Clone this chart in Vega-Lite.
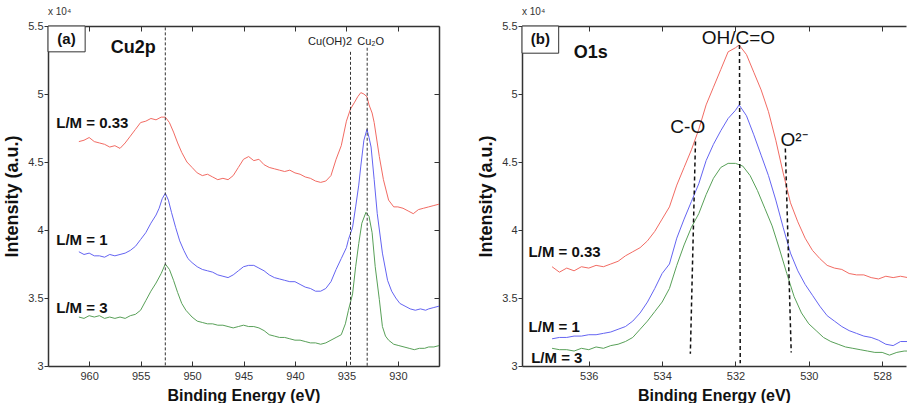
{
  "$schema": "https://vega.github.io/schema/vega-lite/v6.json",
  "padding": {"left": 3, "top": 7, "right": 0, "bottom": 0},
  "spacing": 36,
  "config": {
    "view": {"stroke": null},
    "axis": {"grid": false, "domainColor": "#333", "domainWidth": 1.5, "tickColor": "#333", "tickWidth": 1, "labelFont": "Liberation Sans", "labelFontSize": 11, "labelColor": "#333", "titleFont": "Liberation Sans", "titleFontWeight": "bold", "titleColor": "#111"},
    "title": {"font": "Liberation Sans", "fontSize": 10, "fontWeight": "normal", "anchor": "start", "frame": "group", "color": "#333", "offset": 3},
    "text": {"font": "Liberation Sans"}
  },
  "datasets": {
    "cu": [
      {"E":961.0,"I":4.65,"s":"0.33"},{"E":960.5,"I":4.66,"s":"0.33"},{"E":960.0,"I":4.68,"s":"0.33"},{"E":959.5,"I":4.65,"s":"0.33"},{"E":959.0,"I":4.64,"s":"0.33"},{"E":958.5,"I":4.63,"s":"0.33"},{"E":958.0,"I":4.61,"s":"0.33"},{"E":957.5,"I":4.62,"s":"0.33"},{"E":957.0,"I":4.60,"s":"0.33"},{"E":956.5,"I":4.64,"s":"0.33"},{"E":956.0,"I":4.69,"s":"0.33"},{"E":955.5,"I":4.74,"s":"0.33"},{"E":955.0,"I":4.79,"s":"0.33"},{"E":954.5,"I":4.80,"s":"0.33"},{"E":954.0,"I":4.82,"s":"0.33"},{"E":953.5,"I":4.81,"s":"0.33"},{"E":953.0,"I":4.83,"s":"0.33"},{"E":952.6,"I":4.83,"s":"0.33"},{"E":952.2,"I":4.79,"s":"0.33"},{"E":951.8,"I":4.72,"s":"0.33"},{"E":951.4,"I":4.64,"s":"0.33"},{"E":951.0,"I":4.57,"s":"0.33"},{"E":950.5,"I":4.50,"s":"0.33"},{"E":950.0,"I":4.46,"s":"0.33"},{"E":949.5,"I":4.42,"s":"0.33"},{"E":949.0,"I":4.40,"s":"0.33"},{"E":948.5,"I":4.41,"s":"0.33"},{"E":948.0,"I":4.39,"s":"0.33"},{"E":947.5,"I":4.37,"s":"0.33"},{"E":947.0,"I":4.38,"s":"0.33"},{"E":946.5,"I":4.37,"s":"0.33"},{"E":946.0,"I":4.40,"s":"0.33"},{"E":945.5,"I":4.46,"s":"0.33"},{"E":945.0,"I":4.52,"s":"0.33"},{"E":944.5,"I":4.54,"s":"0.33"},{"E":944.0,"I":4.51,"s":"0.33"},{"E":943.5,"I":4.52,"s":"0.33"},{"E":943.0,"I":4.48,"s":"0.33"},{"E":942.5,"I":4.46,"s":"0.33"},{"E":942.0,"I":4.45,"s":"0.33"},{"E":941.5,"I":4.44,"s":"0.33"},{"E":941.0,"I":4.43,"s":"0.33"},{"E":940.5,"I":4.44,"s":"0.33"},{"E":940.0,"I":4.42,"s":"0.33"},{"E":939.5,"I":4.41,"s":"0.33"},{"E":939.0,"I":4.39,"s":"0.33"},{"E":938.5,"I":4.38,"s":"0.33"},{"E":938.0,"I":4.36,"s":"0.33"},{"E":937.5,"I":4.35,"s":"0.33"},{"E":937.0,"I":4.36,"s":"0.33"},{"E":936.5,"I":4.40,"s":"0.33"},{"E":936.0,"I":4.52,"s":"0.33"},{"E":935.5,"I":4.62,"s":"0.33"},{"E":935.0,"I":4.80,"s":"0.33"},{"E":934.6,"I":4.89,"s":"0.33"},{"E":934.2,"I":4.94,"s":"0.33"},{"E":933.9,"I":4.98,"s":"0.33"},{"E":933.6,"I":5.01,"s":"0.33"},{"E":933.3,"I":5.00,"s":"0.33"},{"E":933.0,"I":4.98,"s":"0.33"},{"E":932.8,"I":4.92,"s":"0.33"},{"E":932.5,"I":4.86,"s":"0.33"},{"E":932.3,"I":4.79,"s":"0.33"},{"E":931.8,"I":4.54,"s":"0.33"},{"E":931.4,"I":4.37,"s":"0.33"},{"E":930.9,"I":4.22,"s":"0.33"},{"E":930.4,"I":4.17,"s":"0.33"},{"E":930.0,"I":4.17,"s":"0.33"},{"E":929.5,"I":4.16,"s":"0.33"},{"E":929.0,"I":4.14,"s":"0.33"},{"E":928.5,"I":4.12,"s":"0.33"},{"E":928.0,"I":4.15,"s":"0.33"},{"E":927.5,"I":4.16,"s":"0.33"},{"E":927.0,"I":4.17,"s":"0.33"},{"E":926.5,"I":4.18,"s":"0.33"},{"E":926.0,"I":4.19,"s":"0.33"},
      {"E":961.0,"I":3.84,"s":"1"},{"E":960.5,"I":3.82,"s":"1"},{"E":960.0,"I":3.83,"s":"1"},{"E":959.5,"I":3.81,"s":"1"},{"E":959.0,"I":3.81,"s":"1"},{"E":958.5,"I":3.80,"s":"1"},{"E":958.0,"I":3.82,"s":"1"},{"E":957.5,"I":3.81,"s":"1"},{"E":957.0,"I":3.82,"s":"1"},{"E":956.5,"I":3.83,"s":"1"},{"E":956.0,"I":3.85,"s":"1"},{"E":955.5,"I":3.88,"s":"1"},{"E":955.0,"I":3.93,"s":"1"},{"E":954.5,"I":3.98,"s":"1"},{"E":954.0,"I":4.05,"s":"1"},{"E":953.5,"I":4.11,"s":"1"},{"E":953.2,"I":4.16,"s":"1"},{"E":952.9,"I":4.23,"s":"1"},{"E":952.6,"I":4.27,"s":"1"},{"E":952.3,"I":4.22,"s":"1"},{"E":952.0,"I":4.13,"s":"1"},{"E":951.6,"I":4.02,"s":"1"},{"E":951.2,"I":3.92,"s":"1"},{"E":950.8,"I":3.85,"s":"1"},{"E":950.4,"I":3.79,"s":"1"},{"E":950.0,"I":3.76,"s":"1"},{"E":949.5,"I":3.73,"s":"1"},{"E":949.0,"I":3.71,"s":"1"},{"E":948.5,"I":3.70,"s":"1"},{"E":948.0,"I":3.69,"s":"1"},{"E":947.5,"I":3.67,"s":"1"},{"E":947.0,"I":3.66,"s":"1"},{"E":946.5,"I":3.65,"s":"1"},{"E":946.0,"I":3.67,"s":"1"},{"E":945.5,"I":3.70,"s":"1"},{"E":945.0,"I":3.73,"s":"1"},{"E":944.5,"I":3.74,"s":"1"},{"E":944.0,"I":3.74,"s":"1"},{"E":943.5,"I":3.72,"s":"1"},{"E":943.0,"I":3.70,"s":"1"},{"E":942.5,"I":3.67,"s":"1"},{"E":942.0,"I":3.65,"s":"1"},{"E":941.5,"I":3.64,"s":"1"},{"E":941.0,"I":3.63,"s":"1"},{"E":940.5,"I":3.62,"s":"1"},{"E":940.0,"I":3.62,"s":"1"},{"E":939.5,"I":3.60,"s":"1"},{"E":939.0,"I":3.58,"s":"1"},{"E":938.5,"I":3.57,"s":"1"},{"E":938.0,"I":3.55,"s":"1"},{"E":937.5,"I":3.55,"s":"1"},{"E":937.0,"I":3.57,"s":"1"},{"E":936.5,"I":3.62,"s":"1"},{"E":936.0,"I":3.71,"s":"1"},{"E":935.5,"I":3.79,"s":"1"},{"E":935.0,"I":3.87,"s":"1"},{"E":934.8,"I":3.93,"s":"1"},{"E":934.4,"I":4.02,"s":"1"},{"E":934.1,"I":4.17,"s":"1"},{"E":933.8,"I":4.33,"s":"1"},{"E":933.6,"I":4.47,"s":"1"},{"E":933.3,"I":4.66,"s":"1"},{"E":933.0,"I":4.74,"s":"1"},{"E":932.8,"I":4.68,"s":"1"},{"E":932.6,"I":4.61,"s":"1"},{"E":932.3,"I":4.37,"s":"1"},{"E":932.0,"I":4.12,"s":"1"},{"E":931.5,"I":3.83,"s":"1"},{"E":931.0,"I":3.63,"s":"1"},{"E":930.6,"I":3.55,"s":"1"},{"E":930.2,"I":3.50,"s":"1"},{"E":929.8,"I":3.46,"s":"1"},{"E":929.3,"I":3.44,"s":"1"},{"E":928.8,"I":3.42,"s":"1"},{"E":928.3,"I":3.41,"s":"1"},{"E":927.8,"I":3.42,"s":"1"},{"E":927.3,"I":3.41,"s":"1"},{"E":927.0,"I":3.42,"s":"1"},{"E":926.5,"I":3.43,"s":"1"},{"E":926.0,"I":3.44,"s":"1"},
      {"E":961.0,"I":3.36,"s":"3"},{"E":960.5,"I":3.35,"s":"3"},{"E":960.0,"I":3.37,"s":"3"},{"E":959.5,"I":3.36,"s":"3"},{"E":959.0,"I":3.37,"s":"3"},{"E":958.5,"I":3.35,"s":"3"},{"E":958.0,"I":3.36,"s":"3"},{"E":957.5,"I":3.35,"s":"3"},{"E":957.0,"I":3.36,"s":"3"},{"E":956.5,"I":3.35,"s":"3"},{"E":956.0,"I":3.37,"s":"3"},{"E":955.5,"I":3.38,"s":"3"},{"E":955.0,"I":3.41,"s":"3"},{"E":954.5,"I":3.48,"s":"3"},{"E":954.0,"I":3.55,"s":"3"},{"E":953.5,"I":3.61,"s":"3"},{"E":953.0,"I":3.68,"s":"3"},{"E":952.6,"I":3.75,"s":"3"},{"E":952.2,"I":3.71,"s":"3"},{"E":951.8,"I":3.63,"s":"3"},{"E":951.4,"I":3.54,"s":"3"},{"E":951.0,"I":3.46,"s":"3"},{"E":950.6,"I":3.41,"s":"3"},{"E":950.0,"I":3.36,"s":"3"},{"E":949.5,"I":3.33,"s":"3"},{"E":949.0,"I":3.32,"s":"3"},{"E":948.5,"I":3.31,"s":"3"},{"E":948.0,"I":3.31,"s":"3"},{"E":947.5,"I":3.30,"s":"3"},{"E":947.0,"I":3.30,"s":"3"},{"E":946.5,"I":3.29,"s":"3"},{"E":946.0,"I":3.28,"s":"3"},{"E":945.5,"I":3.29,"s":"3"},{"E":945.0,"I":3.30,"s":"3"},{"E":944.5,"I":3.29,"s":"3"},{"E":944.0,"I":3.29,"s":"3"},{"E":943.5,"I":3.28,"s":"3"},{"E":943.0,"I":3.26,"s":"3"},{"E":942.5,"I":3.23,"s":"3"},{"E":942.0,"I":3.22,"s":"3"},{"E":941.5,"I":3.21,"s":"3"},{"E":941.0,"I":3.21,"s":"3"},{"E":940.5,"I":3.20,"s":"3"},{"E":940.0,"I":3.19,"s":"3"},{"E":939.5,"I":3.19,"s":"3"},{"E":939.0,"I":3.18,"s":"3"},{"E":938.5,"I":3.17,"s":"3"},{"E":938.0,"I":3.17,"s":"3"},{"E":937.5,"I":3.16,"s":"3"},{"E":937.0,"I":3.17,"s":"3"},{"E":936.5,"I":3.19,"s":"3"},{"E":936.0,"I":3.21,"s":"3"},{"E":935.5,"I":3.23,"s":"3"},{"E":935.1,"I":3.31,"s":"3"},{"E":934.8,"I":3.41,"s":"3"},{"E":934.4,"I":3.53,"s":"3"},{"E":934.1,"I":3.73,"s":"3"},{"E":933.8,"I":3.90,"s":"3"},{"E":933.5,"I":4.05,"s":"3"},{"E":933.1,"I":4.13,"s":"3"},{"E":932.8,"I":4.10,"s":"3"},{"E":932.5,"I":3.98,"s":"3"},{"E":932.2,"I":3.73,"s":"3"},{"E":931.8,"I":3.49,"s":"3"},{"E":931.5,"I":3.29,"s":"3"},{"E":931.2,"I":3.22,"s":"3"},{"E":930.9,"I":3.19,"s":"3"},{"E":930.4,"I":3.16,"s":"3"},{"E":929.9,"I":3.15,"s":"3"},{"E":929.4,"I":3.14,"s":"3"},{"E":928.9,"I":3.13,"s":"3"},{"E":928.4,"I":3.12,"s":"3"},{"E":927.9,"I":3.13,"s":"3"},{"E":927.4,"I":3.13,"s":"3"},{"E":927.0,"I":3.14,"s":"3"},{"E":926.5,"I":3.14,"s":"3"},{"E":926.0,"I":3.15,"s":"3"}
    ],
    "o": [
      {"E":537.0,"I":3.73,"s":"0.33"},{"E":536.8,"I":3.69,"s":"0.33"},{"E":536.6,"I":3.72,"s":"0.33"},{"E":536.4,"I":3.70,"s":"0.33"},{"E":536.2,"I":3.73,"s":"0.33"},{"E":536.0,"I":3.72,"s":"0.33"},{"E":535.8,"I":3.74,"s":"0.33"},{"E":535.6,"I":3.73,"s":"0.33"},{"E":535.4,"I":3.75,"s":"0.33"},{"E":535.2,"I":3.77,"s":"0.33"},{"E":535.0,"I":3.81,"s":"0.33"},{"E":534.8,"I":3.84,"s":"0.33"},{"E":534.6,"I":3.87,"s":"0.33"},{"E":534.4,"I":3.92,"s":"0.33"},{"E":534.2,"I":3.99,"s":"0.33"},{"E":534.0,"I":4.08,"s":"0.33"},{"E":533.8,"I":4.17,"s":"0.33"},{"E":533.6,"I":4.33,"s":"0.33"},{"E":533.4,"I":4.46,"s":"0.33"},{"E":533.2,"I":4.59,"s":"0.33"},{"E":533.0,"I":4.74,"s":"0.33"},{"E":532.8,"I":4.92,"s":"0.33"},{"E":532.6,"I":5.05,"s":"0.33"},{"E":532.4,"I":5.18,"s":"0.33"},{"E":532.2,"I":5.31,"s":"0.33"},{"E":532.0,"I":5.34,"s":"0.33"},{"E":531.9,"I":5.36,"s":"0.33"},{"E":531.7,"I":5.29,"s":"0.33"},{"E":531.5,"I":5.16,"s":"0.33"},{"E":531.3,"I":5.03,"s":"0.33"},{"E":531.1,"I":4.87,"s":"0.33"},{"E":530.9,"I":4.66,"s":"0.33"},{"E":530.7,"I":4.42,"s":"0.33"},{"E":530.5,"I":4.20,"s":"0.33"},{"E":530.3,"I":4.06,"s":"0.33"},{"E":530.1,"I":3.94,"s":"0.33"},{"E":529.9,"I":3.85,"s":"0.33"},{"E":529.7,"I":3.79,"s":"0.33"},{"E":529.5,"I":3.74,"s":"0.33"},{"E":529.3,"I":3.72,"s":"0.33"},{"E":529.1,"I":3.71,"s":"0.33"},{"E":528.9,"I":3.68,"s":"0.33"},{"E":528.7,"I":3.67,"s":"0.33"},{"E":528.5,"I":3.67,"s":"0.33"},{"E":528.3,"I":3.65,"s":"0.33"},{"E":528.1,"I":3.64,"s":"0.33"},{"E":527.9,"I":3.66,"s":"0.33"},{"E":527.7,"I":3.65,"s":"0.33"},{"E":527.5,"I":3.66,"s":"0.33"},{"E":527.3,"I":3.65,"s":"0.33"},
      {"E":537.0,"I":3.20,"s":"1"},{"E":536.8,"I":3.21,"s":"1"},{"E":536.6,"I":3.21,"s":"1"},{"E":536.4,"I":3.22,"s":"1"},{"E":536.2,"I":3.22,"s":"1"},{"E":536.0,"I":3.23,"s":"1"},{"E":535.8,"I":3.23,"s":"1"},{"E":535.6,"I":3.24,"s":"1"},{"E":535.4,"I":3.25,"s":"1"},{"E":535.2,"I":3.27,"s":"1"},{"E":535.0,"I":3.29,"s":"1"},{"E":534.8,"I":3.33,"s":"1"},{"E":534.6,"I":3.39,"s":"1"},{"E":534.4,"I":3.47,"s":"1"},{"E":534.2,"I":3.57,"s":"1"},{"E":534.0,"I":3.68,"s":"1"},{"E":533.8,"I":3.75,"s":"1"},{"E":533.6,"I":3.94,"s":"1"},{"E":533.4,"I":4.08,"s":"1"},{"E":533.2,"I":4.21,"s":"1"},{"E":533.0,"I":4.34,"s":"1"},{"E":532.8,"I":4.51,"s":"1"},{"E":532.6,"I":4.63,"s":"1"},{"E":532.4,"I":4.73,"s":"1"},{"E":532.2,"I":4.82,"s":"1"},{"E":532.0,"I":4.88,"s":"1"},{"E":531.9,"I":4.92,"s":"1"},{"E":531.7,"I":4.84,"s":"1"},{"E":531.5,"I":4.70,"s":"1"},{"E":531.3,"I":4.55,"s":"1"},{"E":531.1,"I":4.40,"s":"1"},{"E":530.9,"I":4.22,"s":"1"},{"E":530.7,"I":4.02,"s":"1"},{"E":530.5,"I":3.83,"s":"1"},{"E":530.3,"I":3.70,"s":"1"},{"E":530.1,"I":3.60,"s":"1"},{"E":529.9,"I":3.52,"s":"1"},{"E":529.7,"I":3.44,"s":"1"},{"E":529.5,"I":3.37,"s":"1"},{"E":529.3,"I":3.33,"s":"1"},{"E":529.1,"I":3.29,"s":"1"},{"E":528.9,"I":3.26,"s":"1"},{"E":528.7,"I":3.24,"s":"1"},{"E":528.5,"I":3.22,"s":"1"},{"E":528.3,"I":3.21,"s":"1"},{"E":528.1,"I":3.19,"s":"1"},{"E":527.9,"I":3.16,"s":"1"},{"E":527.7,"I":3.15,"s":"1"},{"E":527.5,"I":3.18,"s":"1"},{"E":527.3,"I":3.18,"s":"1"},
      {"E":537.0,"I":3.13,"s":"3"},{"E":536.8,"I":3.12,"s":"3"},{"E":536.6,"I":3.12,"s":"3"},{"E":536.4,"I":3.11,"s":"3"},{"E":536.2,"I":3.13,"s":"3"},{"E":536.0,"I":3.12,"s":"3"},{"E":535.8,"I":3.14,"s":"3"},{"E":535.6,"I":3.13,"s":"3"},{"E":535.4,"I":3.15,"s":"3"},{"E":535.2,"I":3.16,"s":"3"},{"E":535.0,"I":3.18,"s":"3"},{"E":534.8,"I":3.21,"s":"3"},{"E":534.6,"I":3.27,"s":"3"},{"E":534.4,"I":3.33,"s":"3"},{"E":534.2,"I":3.40,"s":"3"},{"E":534.0,"I":3.47,"s":"3"},{"E":533.8,"I":3.57,"s":"3"},{"E":533.6,"I":3.74,"s":"3"},{"E":533.4,"I":3.89,"s":"3"},{"E":533.2,"I":4.02,"s":"3"},{"E":533.0,"I":4.12,"s":"3"},{"E":532.8,"I":4.26,"s":"3"},{"E":532.6,"I":4.38,"s":"3"},{"E":532.4,"I":4.46,"s":"3"},{"E":532.2,"I":4.49,"s":"3"},{"E":532.0,"I":4.49,"s":"3"},{"E":531.8,"I":4.47,"s":"3"},{"E":531.6,"I":4.40,"s":"3"},{"E":531.4,"I":4.29,"s":"3"},{"E":531.2,"I":4.16,"s":"3"},{"E":531.0,"I":4.03,"s":"3"},{"E":530.8,"I":3.86,"s":"3"},{"E":530.6,"I":3.68,"s":"3"},{"E":530.4,"I":3.51,"s":"3"},{"E":530.2,"I":3.39,"s":"3"},{"E":530.0,"I":3.31,"s":"3"},{"E":529.8,"I":3.26,"s":"3"},{"E":529.6,"I":3.21,"s":"3"},{"E":529.4,"I":3.18,"s":"3"},{"E":529.2,"I":3.16,"s":"3"},{"E":529.0,"I":3.14,"s":"3"},{"E":528.8,"I":3.13,"s":"3"},{"E":528.6,"I":3.12,"s":"3"},{"E":528.4,"I":3.11,"s":"3"},{"E":528.2,"I":3.10,"s":"3"},{"E":528.0,"I":3.10,"s":"3"},{"E":527.8,"I":3.08,"s":"3"},{"E":527.6,"I":3.10,"s":"3"},{"E":527.4,"I":3.11,"s":"3"},{"E":527.3,"I":3.11,"s":"3"}
    ]
  },
  "hconcat": [
    {
      "width": 391,
      "height": 340,
      "title": {"text": "x 10⁴"},
      "resolve": {"axis": {"x": "independent", "y": "independent"}},
      "layer": [
        {
          "data": {"name": "cu"},
          "mark": {"type": "line", "strokeWidth": 1},
          "encoding": {
            "x": {"field": "E", "type": "quantitative", "scale": {"domain": [926, 964], "reverse": true, "nice": false, "zero": false},
                  "axis": {"orient": "bottom", "values": [930, 935, 940, 945, 950, 955, 960], "title": "Binding Energy (eV)", "titleFontSize": 16, "titlePadding": 6, "tickSize": -5, "labelPadding": 9}},
            "y": {"field": "I", "type": "quantitative", "scale": {"domain": [3, 5.5], "nice": false, "zero": false},
                  "axis": {"orient": "left", "values": [3, 3.5, 4, 4.5, 5, 5.5], "format": "~g", "title": "Intensity (a.u.)", "titleFontSize": 18, "titlePadding": 6, "tickSize": 4, "labelPadding": 1}},
            "color": {"field": "s", "type": "nominal", "scale": {"domain": ["0.33", "1", "3"], "range": ["#f26b63", "#6464f2", "#58a058"]}, "legend": null}
          }
        },
        {
          "data": {"values": [{"E": 952.6, "y1": 5.49, "y2": 3.0}, {"E": 934.6, "y1": 5.31, "y2": 3.0}, {"E": 932.98, "y1": 5.34, "y2": 3.0}]},
          "mark": {"type": "rule", "strokeDash": [3, 2], "color": "#333", "strokeWidth": 1},
          "encoding": {
            "x": {"field": "E", "type": "quantitative", "axis": {"orient": "top", "values": [930, 935, 940, 945, 950, 955, 960], "labels": false, "title": null, "tickSize": -5}},
            "y": {"field": "y1", "type": "quantitative", "axis": {"orient": "right", "values": [3, 3.5, 4, 4.5, 5, 5.5], "labels": false, "title": null, "tickSize": -5}},
            "y2": {"field": "y2"}
          }
        },
        {
          "data": {"values": [{"x1": 964, "x2": 960.39, "y1": 5.5, "y2": 5.31}]},
          "mark": {"type": "rect", "fill": "white", "stroke": "#333", "strokeWidth": 1},
          "encoding": {
            "x": {"field": "x1", "type": "quantitative", "axis": null},
            "x2": {"field": "x2"},
            "y": {"field": "y1", "type": "quantitative", "axis": null},
            "y2": {"field": "y2"}
          }
        },
        {
          "data": {"values": [{"E": 962.2, "I": 5.405, "t": "(a)"}]},
          "mark": {"type": "text", "fontSize": 15, "fontWeight": "bold", "align": "center", "baseline": "middle", "color": "#111"},
          "encoding": {"x": {"field": "E", "type": "quantitative", "axis": null}, "y": {"field": "I", "type": "quantitative", "axis": null}, "text": {"field": "t"}}
        },
        {
          "data": {"values": [{"E": 957.9, "I": 5.34, "t": "Cu2p"}]},
          "mark": {"type": "text", "fontSize": 18, "fontWeight": "bold", "align": "left", "baseline": "middle", "color": "#111"},
          "encoding": {"x": {"field": "E", "type": "quantitative", "axis": null}, "y": {"field": "I", "type": "quantitative", "axis": null}, "text": {"field": "t"}}
        },
        {
          "data": {"values": [{"E": 963.2, "I": 4.79, "t": "L/M = 0.33"}, {"E": 963.2, "I": 3.93, "t": "L/M = 1"}, {"E": 963.2, "I": 3.43, "t": "L/M = 3"}]},
          "mark": {"type": "text", "fontSize": 15, "fontWeight": "bold", "align": "left", "baseline": "middle", "color": "#111"},
          "encoding": {"x": {"field": "E", "type": "quantitative", "axis": null}, "y": {"field": "I", "type": "quantitative", "axis": null}, "text": {"field": "t"}}
        },
        {
          "data": {"values": [{"E": 934.45, "I": 5.385, "t": "Cu(OH)2"}]},
          "mark": {"type": "text", "fontSize": 11, "align": "right", "baseline": "middle", "color": "#222"},
          "encoding": {"x": {"field": "E", "type": "quantitative", "axis": null}, "y": {"field": "I", "type": "quantitative", "axis": null}, "text": {"field": "t"}}
        },
        {
          "data": {"values": [{"E": 933.95, "I": 5.385, "t": "Cu₂O"}]},
          "mark": {"type": "text", "fontSize": 11, "align": "left", "baseline": "middle", "color": "#222"},
          "encoding": {"x": {"field": "E", "type": "quantitative", "axis": null}, "y": {"field": "I", "type": "quantitative", "axis": null}, "text": {"field": "t"}}
        }
      ]
    },
    {
      "width": 384,
      "height": 340,
      "title": {"text": "x 10⁴"},
      "resolve": {"axis": {"x": "independent", "y": "independent"}},
      "layer": [
        {
          "data": {"name": "o"},
          "mark": {"type": "line", "strokeWidth": 1},
          "encoding": {
            "x": {"field": "E", "type": "quantitative", "scale": {"domain": [527.35, 537.82], "reverse": true, "nice": false, "zero": false},
                  "axis": {"orient": "bottom", "values": [528, 530, 532, 534, 536], "title": "Binding Energy (eV)", "titleFontSize": 16, "titlePadding": 6, "tickSize": -5, "labelPadding": 9}},
            "y": {"field": "I", "type": "quantitative", "scale": {"domain": [3, 5.5], "nice": false, "zero": false},
                  "axis": {"orient": "left", "values": [3, 3.5, 4, 4.5, 5, 5.5], "format": "~g", "title": "Intensity (a.u.)", "titleFontSize": 18, "titlePadding": 6, "tickSize": 4, "labelPadding": 1}},
            "color": {"field": "s", "type": "nominal", "scale": {"domain": ["0.33", "1", "3"], "range": ["#f26b63", "#6464f2", "#58a058"]}, "legend": null}
          }
        },
        {
          "data": {"values": [{"E": 533.09, "E2": 533.23, "y1": 4.65, "y2": 3.09}, {"E": 531.89, "E2": 531.87, "y1": 5.36, "y2": 3.02}, {"E": 530.64, "E2": 530.48, "y1": 4.60, "y2": 3.10}]},
          "mark": {"type": "rule", "strokeDash": [4, 3], "color": "#111", "strokeWidth": 1.5},
          "encoding": {
            "x": {"field": "E", "type": "quantitative", "axis": {"orient": "top", "values": [528, 530, 532, 534, 536], "labels": false, "title": null, "tickSize": -5}},
            "x2": {"field": "E2"},
            "y": {"field": "y1", "type": "quantitative", "axis": null},
            "y2": {"field": "y2"}
          }
        },
        {
          "data": {"values": [{"x1": 537.82, "x2": 536.82, "y1": 5.5, "y2": 5.3}]},
          "mark": {"type": "rect", "fill": "white", "stroke": "#333", "strokeWidth": 1},
          "encoding": {
            "x": {"field": "x1", "type": "quantitative", "axis": null},
            "x2": {"field": "x2"},
            "y": {"field": "y1", "type": "quantitative", "axis": null},
            "y2": {"field": "y2"}
          }
        },
        {
          "data": {"values": [{"E": 537.32, "I": 5.405, "t": "(b)"}]},
          "mark": {"type": "text", "fontSize": 15, "fontWeight": "bold", "align": "center", "baseline": "middle", "color": "#111"},
          "encoding": {"x": {"field": "E", "type": "quantitative", "axis": null}, "y": {"field": "I", "type": "quantitative", "axis": null}, "text": {"field": "t"}}
        },
        {
          "data": {"values": [{"E": 536.41, "I": 5.3, "t": "O1s"}]},
          "mark": {"type": "text", "fontSize": 18, "fontWeight": "bold", "align": "left", "baseline": "middle", "color": "#111"},
          "encoding": {"x": {"field": "E", "type": "quantitative", "axis": null}, "y": {"field": "I", "type": "quantitative", "axis": null}, "text": {"field": "t"}}
        },
        {
          "data": {"values": [{"E": 537.64, "I": 3.84, "t": "L/M = 0.33"}, {"E": 537.64, "I": 3.29, "t": "L/M = 1"}, {"E": 537.57, "I": 3.056, "t": "L/M = 3"}]},
          "mark": {"type": "text", "fontSize": 15, "fontWeight": "bold", "align": "left", "baseline": "middle", "color": "#111"},
          "encoding": {"x": {"field": "E", "type": "quantitative", "axis": null}, "y": {"field": "I", "type": "quantitative", "axis": null}, "text": {"field": "t"}}
        },
        {
          "data": {"values": [{"E": 531.92, "I": 5.41, "t": "OH/C=O"}, {"E": 533.3, "I": 4.76, "t": "C-O"}]},
          "mark": {"type": "text", "fontSize": 19, "align": "center", "baseline": "middle", "color": "#111"},
          "encoding": {"x": {"field": "E", "type": "quantitative", "axis": null}, "y": {"field": "I", "type": "quantitative", "axis": null}, "text": {"field": "t"}}
        },
        {
          "data": {"values": [{"E": 530.77, "I": 4.66, "t": "O²⁻"}]},
          "mark": {"type": "text", "fontSize": 19, "align": "left", "baseline": "middle", "color": "#111"},
          "encoding": {"x": {"field": "E", "type": "quantitative", "axis": null}, "y": {"field": "I", "type": "quantitative", "axis": null}, "text": {"field": "t"}}
        }
      ]
    }
  ]
}
